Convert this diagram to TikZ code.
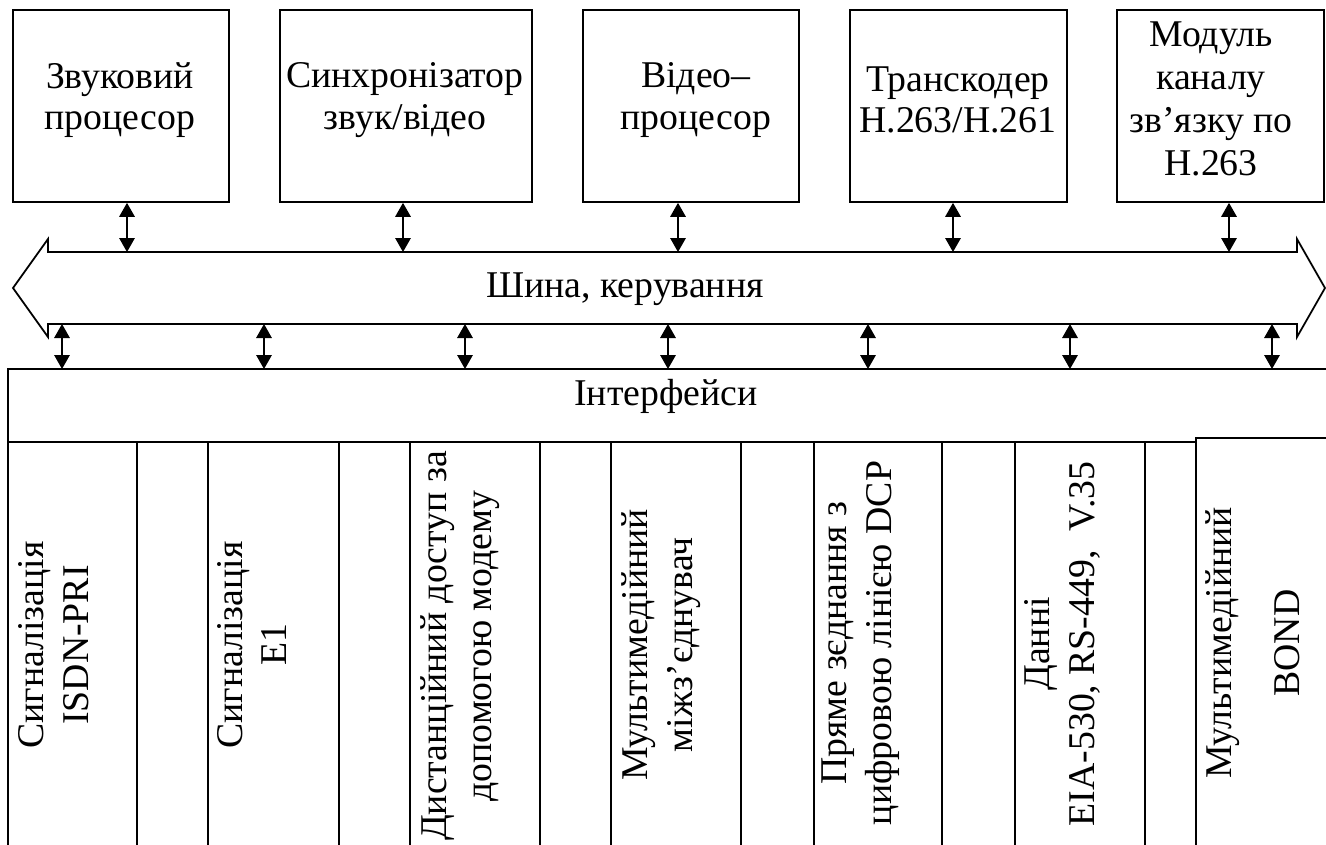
\documentclass[tikz,border=0pt]{standalone}
\usepackage{fontspec}
\setmainfont{Liberation Serif}
\usetikzlibrary{arrows.meta,positioning}
\tikzset{
  blok/.style={draw,line width=1pt,minimum height=3.84cm,inner sep=0pt},
  txt/.style={align=center,inner sep=0pt,font=\fontsize{21.5}{23.6}\selectfont},
  coltxt/.style={txt,rotate=90,font=\fontsize{21.5}{25.5}\selectfont},
  ln/.style={line width=1pt},
  dvu/.style={{Triangle[length=0.28cm,width=0.31cm]}-{Triangle[length=0.28cm,width=0.31cm]},line width=0.9pt}
}

\begin{document}
\begin{tikzpicture}[x=0.02cm,y=-0.02cm]
\useasboundingbox (0,0) rectangle (1326,845);
\clip (0,0) rectangle (1326,845);
\node[blok,minimum width=4.32cm] (zvuk) at (121,106) {};
\node[blok,minimum width=5.04cm] (sync) at (406,106) {};
\node[blok,minimum width=4.32cm] (video) at (691,106) {};
\node[blok,minimum width=4.34cm] (trans) at (958.5,106) {};
\node[blok,minimum width=4.14cm] (modul) at (1220.5,106) {};
\node[txt] (zvukT) at (120,100) {Звуковий\\процесор};
\node[txt] (syncT) at (405,100) {Синхронізатор\\звук/відео};
\node[txt] (videoT) at (696,100) {Відео–\\процесор};
\node[txt] (transT) at (958,100) {Транскодер\\H.263/H.261};
\node[txt,font=\fontsize{21.5}{24.4}\selectfont] (modulT) at (1211,99) {Модуль\\каналу\\зв’язку по\\H.263};

\draw[ln] (48,252) -- (1297,252) -- (1297,239) -- (1325,288) -- (1297,337) -- (1297,324)
  -- (48,324) -- (48,337) -- (13,288) -- (48,239) -- cycle;
\node[txt,anchor=base] (shyna) at (625,297) {Шина, керування};

\foreach \b/\x [count=\i] in {zvuk/127,sync/403,video/678,trans/953,modul/1229}{
  \coordinate (s\i) at (\x,252);
  \draw[dvu] (\b.south -| s\i) -- (s\i);
}

\coordinate (itop) at (0,369);
\foreach \x [count=\i] in {62,264,465,668,868,1070,1272}{
  \coordinate (b\i) at (\x,324);
  \draw[dvu] (b\i) -- (b\i |- itop);
}

\draw[ln] (1340,369) -- (8,369) -- (8,860);
\node[txt,anchor=base] (intf) at (666,405) {Інтерфейси};
\draw[ln] (8,442) -- (1196,442);
\foreach \x in {137,208,339,410,540,611,741,814,942,1015,1145}
  \draw[ln] (\x,442) -- (\x,860);
\draw[ln] (1196,860) -- (1196,438) -- (1340,438);

\node[coltxt] (isdn) at (54,645) {Сигналізація\\ISDN-PRI};
\node[coltxt] (eodyn) at (252,645) {Сигналізація\\E1};
\node[coltxt] (modem) at (460,646) {Дистанційний доступ за\\допомогою модему};
\node[coltxt] (mcu) at (661,645) {Мультимедійний\\міжз’єднувач};
\node[coltxt] (dcp) at (861,643) {Пряме зєднання з\\цифровою лінією DCP};
\node[coltxt] (dani) at (1062,644) {Данні\\EIA-530, RS-449,\ \ V.35};
\node[coltxt] (bond) at (1253,643) {Мультимедійний\\[0.46cm]BOND};
\end{tikzpicture}
\end{document}
